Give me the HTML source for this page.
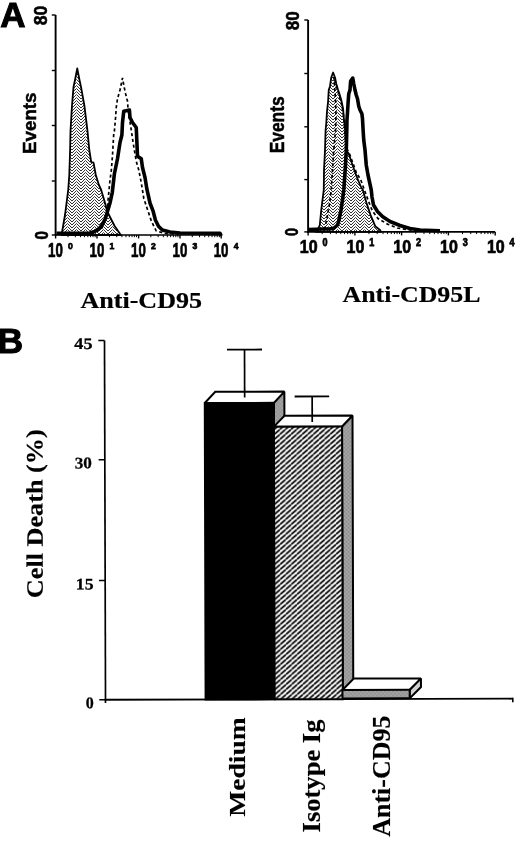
<!DOCTYPE html>
<html><head><meta charset="utf-8"><title>Figure</title>
<style>html,body{margin:0;padding:0;background:#fff;}svg{display:block;will-change:transform;}</style>
</head><body>
<svg width="520" height="842" viewBox="0 0 520 842">
<defs>
<pattern id="herring" width="9" height="3" patternUnits="userSpaceOnUse">
<rect width="9" height="3" fill="#fbfbfb"/>
<path d="M0,0 L4.5,-4.5 L9,0 M0,3 L4.5,-1.5 L9,3 M0,6 L4.5,1.5 L9,6 M0,9 L4.5,4.5 L9,9" fill="none" stroke="#333" stroke-width="1.0"/>
</pattern>
<pattern id="hatch" width="5.6" height="5" patternUnits="userSpaceOnUse">
<rect width="5.6" height="5" fill="#fff"/>
<path d="M-5.6,5 L0,0 M0,5 L5.6,0 M5.6,5 L11.2,0" stroke="#000" stroke-width="1.7"/>
</pattern>
<pattern id="stipple" width="4" height="4" patternUnits="userSpaceOnUse">
<rect width="4" height="4" fill="#9c9c9c"/>
<rect x="0" y="0" width="1" height="1" fill="#858585"/>
<rect x="2" y="2" width="1" height="1" fill="#858585"/>
<rect x="2" y="0" width="1" height="1" fill="#b2b2b2"/>
<rect x="0" y="2" width="1" height="1" fill="#b2b2b2"/>
</pattern>
<pattern id="lstip" width="3" height="3" patternUnits="userSpaceOnUse">
<rect width="3" height="3" fill="#dcdcdc"/>
<path d="M0,3 L3,0" stroke="#b0b0b0" stroke-width="0.8"/>
</pattern>
</defs>
<rect width="520" height="842" fill="#fff"/>
<text x="0.3" y="26.8" font-family='"Liberation Sans", sans-serif' font-weight="bold" font-size="35" stroke="#000" stroke-width="1.0" >A</text>
<text x="-2.6" y="353.3" font-family='"Liberation Sans", sans-serif' font-weight="bold" font-size="35.5" stroke="#000" stroke-width="1.0" >B</text>
<line x1="55.6" y1="15" x2="55.6" y2="235.8" stroke="#000" stroke-width="1.9"/>
<line x1="54.800000000000004" y1="235" x2="221.2" y2="235" stroke="#000" stroke-width="1.6"/>
<line x1="51.800000000000004" y1="15" x2="55.6" y2="15" stroke="#000" stroke-width="1.4"/>
<line x1="51.800000000000004" y1="70.5" x2="55.6" y2="70.5" stroke="#000" stroke-width="1.4"/>
<line x1="51.800000000000004" y1="125.5" x2="55.6" y2="125.5" stroke="#000" stroke-width="1.4"/>
<line x1="51.800000000000004" y1="181" x2="55.6" y2="181" stroke="#000" stroke-width="1.4"/>
<line x1="51.800000000000004" y1="235" x2="55.6" y2="235" stroke="#000" stroke-width="1.4"/>
<line x1="55.6" y1="235" x2="55.6" y2="238.5" stroke="#000" stroke-width="1.4"/>
<line x1="97.0" y1="235" x2="97.0" y2="238.5" stroke="#000" stroke-width="1.4"/>
<line x1="138.6" y1="235" x2="138.6" y2="238.5" stroke="#000" stroke-width="1.4"/>
<line x1="180.0" y1="235" x2="180.0" y2="238.5" stroke="#000" stroke-width="1.4"/>
<line x1="221.2" y1="235" x2="221.2" y2="238.5" stroke="#000" stroke-width="1.4"/>
<line x1="68.06" y1="235" x2="68.06" y2="237.2" stroke="#000" stroke-width="1"/>
<line x1="75.35" y1="235" x2="75.35" y2="237.2" stroke="#000" stroke-width="1"/>
<line x1="80.53" y1="235" x2="80.53" y2="237.2" stroke="#000" stroke-width="1"/>
<line x1="84.54" y1="235" x2="84.54" y2="237.2" stroke="#000" stroke-width="1"/>
<line x1="87.82" y1="235" x2="87.82" y2="237.2" stroke="#000" stroke-width="1"/>
<line x1="90.59" y1="235" x2="90.59" y2="237.2" stroke="#000" stroke-width="1"/>
<line x1="92.99" y1="235" x2="92.99" y2="237.2" stroke="#000" stroke-width="1"/>
<line x1="95.11" y1="235" x2="95.11" y2="237.2" stroke="#000" stroke-width="1"/>
<line x1="109.46" y1="235" x2="109.46" y2="237.2" stroke="#000" stroke-width="1"/>
<line x1="116.75" y1="235" x2="116.75" y2="237.2" stroke="#000" stroke-width="1"/>
<line x1="121.93" y1="235" x2="121.93" y2="237.2" stroke="#000" stroke-width="1"/>
<line x1="125.94" y1="235" x2="125.94" y2="237.2" stroke="#000" stroke-width="1"/>
<line x1="129.22" y1="235" x2="129.22" y2="237.2" stroke="#000" stroke-width="1"/>
<line x1="131.99" y1="235" x2="131.99" y2="237.2" stroke="#000" stroke-width="1"/>
<line x1="134.39" y1="235" x2="134.39" y2="237.2" stroke="#000" stroke-width="1"/>
<line x1="136.51" y1="235" x2="136.51" y2="237.2" stroke="#000" stroke-width="1"/>
<line x1="150.86" y1="235" x2="150.86" y2="237.2" stroke="#000" stroke-width="1"/>
<line x1="158.15" y1="235" x2="158.15" y2="237.2" stroke="#000" stroke-width="1"/>
<line x1="163.33" y1="235" x2="163.33" y2="237.2" stroke="#000" stroke-width="1"/>
<line x1="167.34" y1="235" x2="167.34" y2="237.2" stroke="#000" stroke-width="1"/>
<line x1="170.62" y1="235" x2="170.62" y2="237.2" stroke="#000" stroke-width="1"/>
<line x1="173.39" y1="235" x2="173.39" y2="237.2" stroke="#000" stroke-width="1"/>
<line x1="175.79" y1="235" x2="175.79" y2="237.2" stroke="#000" stroke-width="1"/>
<line x1="177.91" y1="235" x2="177.91" y2="237.2" stroke="#000" stroke-width="1"/>
<line x1="192.26" y1="235" x2="192.26" y2="237.2" stroke="#000" stroke-width="1"/>
<line x1="199.55" y1="235" x2="199.55" y2="237.2" stroke="#000" stroke-width="1"/>
<line x1="204.73" y1="235" x2="204.73" y2="237.2" stroke="#000" stroke-width="1"/>
<line x1="208.74" y1="235" x2="208.74" y2="237.2" stroke="#000" stroke-width="1"/>
<line x1="212.02" y1="235" x2="212.02" y2="237.2" stroke="#000" stroke-width="1"/>
<line x1="214.79" y1="235" x2="214.79" y2="237.2" stroke="#000" stroke-width="1"/>
<line x1="217.19" y1="235" x2="217.19" y2="237.2" stroke="#000" stroke-width="1"/>
<line x1="219.31" y1="235" x2="219.31" y2="237.2" stroke="#000" stroke-width="1"/>
<text transform="translate(47.2,25.2) rotate(-90)" x="0" y="0" font-family='"Liberation Sans", sans-serif' font-weight="bold" font-size="18" textLength="19.6" lengthAdjust="spacingAndGlyphs" stroke="#000" stroke-width="0.55">80</text>
<text transform="translate(35.8,153.9) rotate(-90)" x="0" y="0" font-family='"Liberation Sans", sans-serif' font-weight="bold" font-size="19.2" textLength="61.4" lengthAdjust="spacingAndGlyphs" stroke="#000" stroke-width="0.5">Events</text>
<text transform="translate(47.5,239.5) rotate(-90)" x="0" y="0" font-family='"Liberation Sans", sans-serif' font-weight="bold" font-size="18" textLength="8.5" lengthAdjust="spacingAndGlyphs" stroke="#000" stroke-width="0.6">0</text>
<text x="48.1" y="256.8" font-family='"Liberation Sans", sans-serif' font-weight="bold" font-size="19.4" textLength="14.8" lengthAdjust="spacingAndGlyphs" stroke="#000" stroke-width="0.7" >10</text>
<text x="68.1" y="248.8" font-family='"Liberation Sans", sans-serif' font-weight="bold" font-size="9.6" textLength="4.8" lengthAdjust="spacingAndGlyphs" stroke="#000" stroke-width="0.75" >0</text>
<text x="89.5" y="256.8" font-family='"Liberation Sans", sans-serif' font-weight="bold" font-size="19.4" textLength="14.8" lengthAdjust="spacingAndGlyphs" stroke="#000" stroke-width="0.7" >10</text>
<text x="109.5" y="248.8" font-family='"Liberation Sans", sans-serif' font-weight="bold" font-size="9.6" textLength="4.8" lengthAdjust="spacingAndGlyphs" stroke="#000" stroke-width="0.75" >1</text>
<text x="131.1" y="256.8" font-family='"Liberation Sans", sans-serif' font-weight="bold" font-size="19.4" textLength="14.8" lengthAdjust="spacingAndGlyphs" stroke="#000" stroke-width="0.7" >10</text>
<text x="151.1" y="248.8" font-family='"Liberation Sans", sans-serif' font-weight="bold" font-size="9.6" textLength="4.8" lengthAdjust="spacingAndGlyphs" stroke="#000" stroke-width="0.75" >2</text>
<text x="172.5" y="256.8" font-family='"Liberation Sans", sans-serif' font-weight="bold" font-size="19.4" textLength="14.8" lengthAdjust="spacingAndGlyphs" stroke="#000" stroke-width="0.7" >10</text>
<text x="192.5" y="248.8" font-family='"Liberation Sans", sans-serif' font-weight="bold" font-size="9.6" textLength="4.8" lengthAdjust="spacingAndGlyphs" stroke="#000" stroke-width="0.75" >3</text>
<text x="213.7" y="256.8" font-family='"Liberation Sans", sans-serif' font-weight="bold" font-size="19.4" textLength="14.8" lengthAdjust="spacingAndGlyphs" stroke="#000" stroke-width="0.7" >10</text>
<text x="233.7" y="248.8" font-family='"Liberation Sans", sans-serif' font-weight="bold" font-size="9.6" textLength="4.8" lengthAdjust="spacingAndGlyphs" stroke="#000" stroke-width="0.75" >4</text>
<line x1="308.1" y1="20" x2="308.1" y2="232.70000000000002" stroke="#000" stroke-width="1.9"/>
<line x1="307.3" y1="231.9" x2="495.2" y2="231.9" stroke="#000" stroke-width="1.6"/>
<line x1="304.3" y1="20" x2="308.1" y2="20" stroke="#000" stroke-width="1.4"/>
<line x1="304.3" y1="73.5" x2="308.1" y2="73.5" stroke="#000" stroke-width="1.4"/>
<line x1="304.3" y1="126.8" x2="308.1" y2="126.8" stroke="#000" stroke-width="1.4"/>
<line x1="304.3" y1="179.6" x2="308.1" y2="179.6" stroke="#000" stroke-width="1.4"/>
<line x1="304.3" y1="231.9" x2="308.1" y2="231.9" stroke="#000" stroke-width="1.4"/>
<line x1="308.1" y1="231.9" x2="308.1" y2="235.4" stroke="#000" stroke-width="1.4"/>
<line x1="354.9" y1="231.9" x2="354.9" y2="235.4" stroke="#000" stroke-width="1.4"/>
<line x1="401.6" y1="231.9" x2="401.6" y2="235.4" stroke="#000" stroke-width="1.4"/>
<line x1="448.4" y1="231.9" x2="448.4" y2="235.4" stroke="#000" stroke-width="1.4"/>
<line x1="495.2" y1="231.9" x2="495.2" y2="235.4" stroke="#000" stroke-width="1.4"/>
<line x1="322.18" y1="231.9" x2="322.18" y2="234.1" stroke="#000" stroke-width="1"/>
<line x1="330.42" y1="231.9" x2="330.42" y2="234.1" stroke="#000" stroke-width="1"/>
<line x1="336.26" y1="231.9" x2="336.26" y2="234.1" stroke="#000" stroke-width="1"/>
<line x1="340.79" y1="231.9" x2="340.79" y2="234.1" stroke="#000" stroke-width="1"/>
<line x1="344.50" y1="231.9" x2="344.50" y2="234.1" stroke="#000" stroke-width="1"/>
<line x1="347.63" y1="231.9" x2="347.63" y2="234.1" stroke="#000" stroke-width="1"/>
<line x1="350.34" y1="231.9" x2="350.34" y2="234.1" stroke="#000" stroke-width="1"/>
<line x1="352.73" y1="231.9" x2="352.73" y2="234.1" stroke="#000" stroke-width="1"/>
<line x1="368.96" y1="231.9" x2="368.96" y2="234.1" stroke="#000" stroke-width="1"/>
<line x1="377.19" y1="231.9" x2="377.19" y2="234.1" stroke="#000" stroke-width="1"/>
<line x1="383.04" y1="231.9" x2="383.04" y2="234.1" stroke="#000" stroke-width="1"/>
<line x1="387.57" y1="231.9" x2="387.57" y2="234.1" stroke="#000" stroke-width="1"/>
<line x1="391.27" y1="231.9" x2="391.27" y2="234.1" stroke="#000" stroke-width="1"/>
<line x1="394.40" y1="231.9" x2="394.40" y2="234.1" stroke="#000" stroke-width="1"/>
<line x1="397.12" y1="231.9" x2="397.12" y2="234.1" stroke="#000" stroke-width="1"/>
<line x1="399.51" y1="231.9" x2="399.51" y2="234.1" stroke="#000" stroke-width="1"/>
<line x1="415.73" y1="231.9" x2="415.73" y2="234.1" stroke="#000" stroke-width="1"/>
<line x1="423.97" y1="231.9" x2="423.97" y2="234.1" stroke="#000" stroke-width="1"/>
<line x1="429.81" y1="231.9" x2="429.81" y2="234.1" stroke="#000" stroke-width="1"/>
<line x1="434.34" y1="231.9" x2="434.34" y2="234.1" stroke="#000" stroke-width="1"/>
<line x1="438.05" y1="231.9" x2="438.05" y2="234.1" stroke="#000" stroke-width="1"/>
<line x1="441.18" y1="231.9" x2="441.18" y2="234.1" stroke="#000" stroke-width="1"/>
<line x1="443.89" y1="231.9" x2="443.89" y2="234.1" stroke="#000" stroke-width="1"/>
<line x1="446.28" y1="231.9" x2="446.28" y2="234.1" stroke="#000" stroke-width="1"/>
<line x1="462.51" y1="231.9" x2="462.51" y2="234.1" stroke="#000" stroke-width="1"/>
<line x1="470.74" y1="231.9" x2="470.74" y2="234.1" stroke="#000" stroke-width="1"/>
<line x1="476.59" y1="231.9" x2="476.59" y2="234.1" stroke="#000" stroke-width="1"/>
<line x1="481.12" y1="231.9" x2="481.12" y2="234.1" stroke="#000" stroke-width="1"/>
<line x1="484.82" y1="231.9" x2="484.82" y2="234.1" stroke="#000" stroke-width="1"/>
<line x1="487.95" y1="231.9" x2="487.95" y2="234.1" stroke="#000" stroke-width="1"/>
<line x1="490.67" y1="231.9" x2="490.67" y2="234.1" stroke="#000" stroke-width="1"/>
<line x1="493.06" y1="231.9" x2="493.06" y2="234.1" stroke="#000" stroke-width="1"/>
<text transform="translate(299.0,30.2) rotate(-90)" x="0" y="0" font-family='"Liberation Sans", sans-serif' font-weight="bold" font-size="18" textLength="19.0" lengthAdjust="spacingAndGlyphs" stroke="#000" stroke-width="0.55">80</text>
<text transform="translate(284.0,153.3) rotate(-90)" x="0" y="0" font-family='"Liberation Sans", sans-serif' font-weight="bold" font-size="19.6" textLength="57.0" lengthAdjust="spacingAndGlyphs" stroke="#000" stroke-width="0.5">Events</text>
<text transform="translate(297.7,236.0) rotate(-90)" x="0" y="0" font-family='"Liberation Sans", sans-serif' font-weight="bold" font-size="18" textLength="8.0" lengthAdjust="spacingAndGlyphs" stroke="#000" stroke-width="0.6">0</text>
<text x="299.8" y="252.9" font-family='"Liberation Sans", sans-serif' font-weight="bold" font-size="18.0" textLength="17.8" lengthAdjust="spacingAndGlyphs" stroke="#000" stroke-width="0.7" >10</text>
<text x="322.5" y="245.70000000000002" font-family='"Liberation Sans", sans-serif' font-weight="bold" font-size="10" textLength="5.0" lengthAdjust="spacingAndGlyphs" stroke="#000" stroke-width="0.75" >0</text>
<text x="346.59999999999997" y="252.9" font-family='"Liberation Sans", sans-serif' font-weight="bold" font-size="18.0" textLength="17.8" lengthAdjust="spacingAndGlyphs" stroke="#000" stroke-width="0.7" >10</text>
<text x="369.29999999999995" y="245.70000000000002" font-family='"Liberation Sans", sans-serif' font-weight="bold" font-size="10" textLength="5.0" lengthAdjust="spacingAndGlyphs" stroke="#000" stroke-width="0.75" >1</text>
<text x="393.3" y="252.9" font-family='"Liberation Sans", sans-serif' font-weight="bold" font-size="18.0" textLength="17.8" lengthAdjust="spacingAndGlyphs" stroke="#000" stroke-width="0.7" >10</text>
<text x="416.0" y="245.70000000000002" font-family='"Liberation Sans", sans-serif' font-weight="bold" font-size="10" textLength="5.0" lengthAdjust="spacingAndGlyphs" stroke="#000" stroke-width="0.75" >2</text>
<text x="440.09999999999997" y="252.9" font-family='"Liberation Sans", sans-serif' font-weight="bold" font-size="18.0" textLength="17.8" lengthAdjust="spacingAndGlyphs" stroke="#000" stroke-width="0.7" >10</text>
<text x="462.79999999999995" y="245.70000000000002" font-family='"Liberation Sans", sans-serif' font-weight="bold" font-size="10" textLength="5.0" lengthAdjust="spacingAndGlyphs" stroke="#000" stroke-width="0.75" >3</text>
<text x="486.9" y="252.9" font-family='"Liberation Sans", sans-serif' font-weight="bold" font-size="18.0" textLength="17.8" lengthAdjust="spacingAndGlyphs" stroke="#000" stroke-width="0.7" >10</text>
<text x="509.59999999999997" y="245.70000000000002" font-family='"Liberation Sans", sans-serif' font-weight="bold" font-size="10" textLength="5.0" lengthAdjust="spacingAndGlyphs" stroke="#000" stroke-width="0.75" >4</text>
<polygon points="61.50,235.00 62.25,231.00 65.00,215.00 68.20,190.00 69.30,175.00 70.10,150.00 70.50,131.00 72.00,105.60 73.50,87.00 75.00,80.00 77.25,68.50 79.50,80.00 81.00,87.00 84.40,105.60 87.50,131.00 89.30,150.00 91.20,162.00 93.50,162.70 95.80,175.00 98.90,185.00 101.20,190.00 104.60,201.50 107.00,210.80 110.00,217.00 114.60,226.00 120.00,233.80 121.00,235.00" fill="url(#herring)" stroke="#000" stroke-width="1.8" stroke-linejoin="round"/>
<polyline points="62.00,234.00 95.00,233.00 102.00,228.00 105.50,217.00 107.00,210.80 108.50,195.40 110.00,180.00 111.25,171.25 112.50,155.00 113.75,133.75 114.40,131.00 115.60,117.50 116.25,107.50 117.50,98.75 120.00,90.00 122.50,78.00 123.75,85.00 125.60,93.75 127.50,101.25 128.10,110.00 130.50,125.00 133.10,142.50 136.25,161.25 138.75,170.00 141.25,182.50 143.80,198.50 146.90,207.70 151.50,221.50 156.20,230.80 165.00,233.50 180.00,234.00" fill="none" stroke="#000" stroke-width="1.7" stroke-dasharray="3.2,2.6"/>
<polyline points="56.50,233.40 90.00,233.00 94.60,231.50 99.20,228.50 102.30,224.60 105.40,218.50 107.70,210.80 110.00,203.00 112.30,192.30 114.40,173.75 117.50,158.75 120.00,142.50 121.90,135.00 122.50,122.50 123.75,111.25 129.40,110.00 130.00,117.50 132.50,122.50 136.25,127.50 136.90,142.50 137.50,156.25 141.25,158.75 142.50,167.50 145.00,177.50 146.90,189.20 150.00,203.00 153.00,210.80 155.40,220.00 158.50,226.20 162.30,230.00 170.00,232.00 180.00,233.00 220.00,233.30 221.20,236.00" fill="none" stroke="#000" stroke-width="3.6" stroke-linejoin="round"/>
<polygon points="316.00,231.90 318.50,228.00 319.80,225.00 321.25,210.00 322.50,200.00 323.75,190.00 324.00,170.00 324.50,160.00 325.00,150.00 325.60,130.00 326.25,123.75 326.90,112.50 328.10,101.25 328.75,90.00 330.00,86.25 331.25,77.50 333.10,72.50 335.00,77.50 336.25,83.75 338.10,90.00 339.40,93.75 341.25,100.00 343.10,108.75 343.75,117.50 345.00,127.50 346.25,150.00 348.75,153.75 352.50,165.00 357.50,178.75 361.25,187.50 362.70,189.60 366.50,203.00 370.40,214.60 375.20,226.20 380.00,230.00 381.00,231.90" fill="url(#herring)" stroke="#000" stroke-width="1.8" stroke-linejoin="round"/>
<polyline points="312.00,230.50 320.00,229.00 325.00,228.00 327.50,215.00 329.50,204.00 331.25,190.00 332.50,170.00 333.75,150.00 335.50,131.00 336.00,115.00 335.50,100.00 334.50,85.00 333.80,77.00 336.50,86.00 339.00,95.00 341.50,104.00 343.50,115.00 345.00,135.00 346.50,148.00 350.00,155.00 356.25,172.50 360.80,180.00 368.50,201.20 372.30,210.80 378.00,218.50 387.70,224.20 397.30,228.00 410.00,230.00 425.00,231.00" fill="none" stroke="#000" stroke-width="1.7" stroke-dasharray="3.2,2.6"/>
<polyline points="308.00,229.50 324.20,229.00 330.00,229.00 334.00,228.00 337.50,225.00 338.50,222.00 340.00,215.00 341.00,210.00 342.50,200.00 343.75,190.00 344.50,180.00 345.50,165.00 346.30,150.00 346.90,125.00 346.90,121.25 347.50,112.50 348.10,102.50 348.75,93.75 350.00,90.00 350.60,81.25 352.75,78.10 353.75,83.75 355.00,90.00 356.25,95.00 357.50,98.75 358.75,106.25 360.00,110.00 361.90,113.75 362.50,118.75 363.10,130.00 363.75,140.00 365.00,150.00 366.25,165.00 368.00,175.00 371.25,190.00 372.00,197.00 373.50,205.00 377.50,211.50 382.50,216.50 390.00,221.50 400.00,225.50 410.00,228.50 420.00,230.00 440.00,230.80" fill="none" stroke="#000" stroke-width="3.6" stroke-linejoin="round"/>
<text x="80.5" y="308.4" font-family='"Liberation Serif", serif' font-weight="bold" font-size="22.3" textLength="121.5" lengthAdjust="spacingAndGlyphs" stroke="#000" stroke-width="0.2" >Anti-CD95</text>
<text x="342.5" y="301.8" font-family='"Liberation Serif", serif' font-weight="bold" font-size="22.8" textLength="138" lengthAdjust="spacingAndGlyphs" stroke="#000" stroke-width="0.2" >Anti-CD95L</text>
<g transform="rotate(-0.16 105 520)">
<line x1="105" y1="340.5" x2="105" y2="703" stroke="#000" stroke-width="1.7"/>
<line x1="104.2" y1="699.8" x2="512.3" y2="699.8" stroke="#000" stroke-width="1.9"/>
<line x1="512.3" y1="699" x2="512.3" y2="703.3" stroke="#000" stroke-width="1.6"/>
<line x1="98.8" y1="340.5" x2="105" y2="340.5" stroke="#000" stroke-width="1.6"/>
<line x1="98.8" y1="459.8" x2="105" y2="459.8" stroke="#000" stroke-width="1.6"/>
<line x1="98.8" y1="580.5" x2="105" y2="580.5" stroke="#000" stroke-width="1.6"/>
<line x1="98.8" y1="699.8" x2="105" y2="699.8" stroke="#000" stroke-width="1.6"/>
<text x="74.8" y="348.9" font-family='"Liberation Serif", serif' font-weight="bold" font-size="16.2" textLength="18.2" lengthAdjust="spacingAndGlyphs" stroke="#000" stroke-width="0.25" >45</text>
<text x="74.8" y="468.3" font-family='"Liberation Serif", serif' font-weight="bold" font-size="16.2" textLength="17.2" lengthAdjust="spacingAndGlyphs" stroke="#000" stroke-width="0.25" >30</text>
<text x="75.6" y="589.5" font-family='"Liberation Serif", serif' font-weight="bold" font-size="16.2" textLength="17.8" lengthAdjust="spacingAndGlyphs" stroke="#000" stroke-width="0.25" >15</text>
<text x="85.3" y="708.3" font-family='"Liberation Serif", serif' font-weight="bold" font-size="16.2" textLength="8" lengthAdjust="spacingAndGlyphs" stroke="#000" stroke-width="0.25" >0</text>
<text transform="translate(42.6,598) rotate(-90)" x="0" y="0" font-family='"Liberation Serif", serif' font-weight="bold" font-size="23.5" textLength="169" lengthAdjust="spacingAndGlyphs" stroke="#000" stroke-width="0.15">Cell Death (%)</text>
<polygon points="274.20,403.30 284.70,392.10 284.70,688.60 274.20,699.80" fill="url(#stipple)" stroke="#000" stroke-width="2" stroke-linejoin="miter" stroke-miterlimit="1.5"/>
<polygon points="205.10,403.30 215.60,392.10 284.70,392.10 274.20,403.30" fill="#fff" stroke="#000" stroke-width="2" stroke-linejoin="miter" stroke-miterlimit="1.5"/>
<rect x="205.1" y="403.3" width="69.1" height="296.49999999999994" fill="#000" stroke="#000" stroke-width="2" stroke-linejoin="miter" stroke-miterlimit="1.5"/>
<polygon points="342.30,427.10 352.80,416.20 352.80,688.90 342.30,699.80" fill="url(#stipple)" stroke="#000" stroke-width="2" stroke-linejoin="miter" stroke-miterlimit="1.5"/>
<polygon points="274.20,427.10 284.70,416.20 352.80,416.20 342.30,427.10" fill="#fff" stroke="#000" stroke-width="2" stroke-linejoin="miter" stroke-miterlimit="1.5"/>
<rect x="274.2" y="427.1" width="68.10000000000002" height="272.69999999999993" fill="url(#hatch)" stroke="#000" stroke-width="2" stroke-linejoin="miter" stroke-miterlimit="1.5"/>
<polygon points="409.20,690.60 420.50,679.30 420.50,687.90 409.20,699.20" fill="url(#lstip)" stroke="#000" stroke-width="2" stroke-linejoin="miter" stroke-miterlimit="1.5"/>
<polygon points="342.00,690.60 353.30,679.30 420.50,679.30 409.20,690.60" fill="#fff" stroke="#000" stroke-width="2" stroke-linejoin="miter" stroke-miterlimit="1.5"/>
<rect x="342.0" y="690.6" width="67.19999999999999" height="8.600000000000023" fill="url(#stipple)" stroke="#000" stroke-width="2" stroke-linejoin="miter" stroke-miterlimit="1.5"/>
<line x1="245" y1="350" x2="245" y2="398" stroke="#000" stroke-width="1.7"/>
<line x1="227.5" y1="350" x2="262.5" y2="350" stroke="#000" stroke-width="1.9"/>
<line x1="312.5" y1="397" x2="312.5" y2="422.5" stroke="#000" stroke-width="1.7"/>
<line x1="295" y1="397" x2="329.5" y2="397" stroke="#000" stroke-width="1.9"/>
</g>
<text transform="translate(245.3,816.8) rotate(-90)" x="0" y="0" font-family='"Liberation Serif", serif' font-weight="bold" font-size="23" textLength="99.5" lengthAdjust="spacingAndGlyphs" stroke="#000" stroke-width="0.15">Medium</text>
<text transform="translate(319.8,832.4) rotate(-90)" x="0" y="0" font-family='"Liberation Serif", serif' font-weight="bold" font-size="24.2" textLength="112.8" lengthAdjust="spacingAndGlyphs" stroke="#000" stroke-width="0.15">Isotype Ig</text>
<text transform="translate(389.6,836.8) rotate(-90)" x="0" y="0" font-family='"Liberation Serif", serif' font-weight="bold" font-size="24.8" textLength="121.2" lengthAdjust="spacingAndGlyphs" stroke="#000" stroke-width="0.15">Anti-CD95</text>
</svg>
</body></html>
